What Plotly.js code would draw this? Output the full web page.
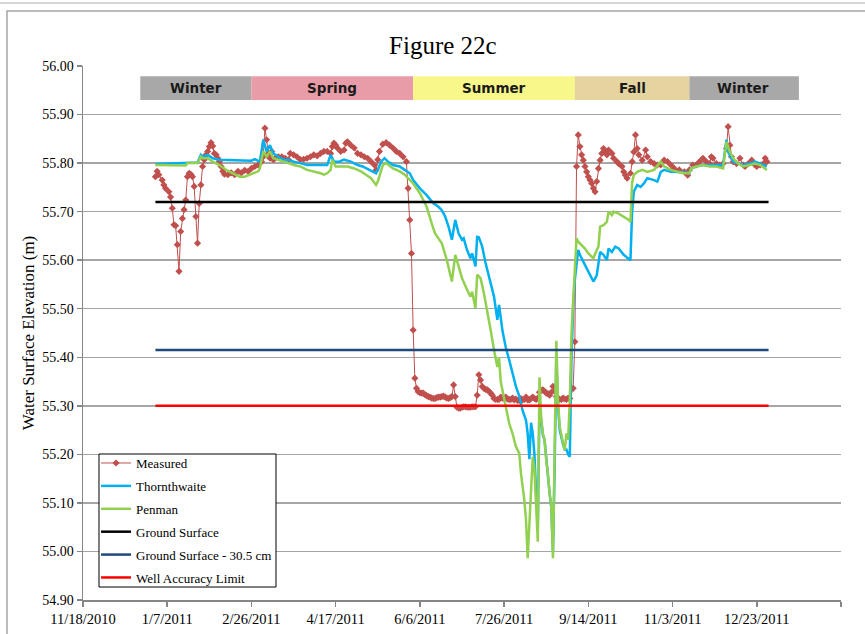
<!DOCTYPE html>
<html><head><meta charset="utf-8">
<script src="https://cdn.plot.ly/plotly-3.0.1.min.js"></script>
<style>html,body{margin:0;padding:0;background:#fff}#chart{width:865px;height:634px}</style>
</head><body><div id="chart"></div>
<script>
const measuredDates = ['2010-12-31','2011-01-01','2011-01-02','2011-01-04','2011-01-05','2011-01-06','2011-01-08','2011-01-09','2011-01-10','2011-01-11','2011-01-12','2011-01-13','2011-01-14','2011-01-15','2011-01-16','2011-01-17','2011-01-18','2011-01-19','2011-01-20','2011-01-21','2011-01-22','2011-01-23','2011-01-24','2011-01-25','2011-01-26','2011-01-27','2011-01-28','2011-01-29','2011-01-30','2011-01-31','2011-02-01','2011-02-02','2011-02-03','2011-02-04','2011-02-05','2011-02-06','2011-02-07','2011-02-08','2011-02-09','2011-02-10','2011-02-12','2011-02-14','2011-02-16','2011-02-18','2011-02-20','2011-02-22','2011-02-24','2011-02-26','2011-02-28','2011-03-02','2011-03-04','2011-03-05','2011-03-06','2011-03-07','2011-03-08','2011-03-09','2011-03-10','2011-03-11','2011-03-12','2011-03-14','2011-03-16','2011-03-18','2011-03-20','2011-03-21','2011-03-23','2011-03-25','2011-03-27','2011-03-29','2011-03-31','2011-04-02','2011-04-04','2011-04-06','2011-04-08','2011-04-10','2011-04-12','2011-04-14','2011-04-15','2011-04-16','2011-04-17','2011-04-18','2011-04-20','2011-04-22','2011-04-23','2011-04-24','2011-04-26','2011-04-28','2011-04-30','2011-05-02','2011-05-04','2011-05-06','2011-05-08','2011-05-10','2011-05-11','2011-05-12','2011-05-13','2011-05-15','2011-05-17','2011-05-19','2011-05-21','2011-05-23','2011-05-25','2011-05-27','2011-05-29','2011-05-30','2011-05-31','2011-06-01','2011-06-02','2011-06-03','2011-06-04',
'2011-06-05','2011-06-06','2011-06-07','2011-06-08','2011-06-09','2011-06-10','2011-06-11','2011-06-12','2011-06-13','2011-06-14','2011-06-15','2011-06-16','2011-06-17','2011-06-18','2011-06-19','2011-06-20','2011-06-21','2011-06-22','2011-06-23','2011-06-24','2011-06-25','2011-06-26','2011-06-27','2011-06-28','2011-06-29','2011-06-30','2011-07-01','2011-07-02','2011-07-03','2011-07-04','2011-07-05','2011-07-06','2011-07-07','2011-07-08','2011-07-09','2011-07-10','2011-07-11','2011-07-12','2011-07-13','2011-07-14','2011-07-15','2011-07-16','2011-07-17','2011-07-18','2011-07-19','2011-07-20','2011-07-21','2011-07-22','2011-07-23','2011-07-24','2011-07-25','2011-07-26','2011-07-27','2011-07-28','2011-07-29','2011-07-30','2011-07-31','2011-08-01','2011-08-02','2011-08-03','2011-08-04','2011-08-05','2011-08-06','2011-08-07','2011-08-08','2011-08-09','2011-08-10','2011-08-11','2011-08-12','2011-08-13','2011-08-14','2011-08-15','2011-08-16','2011-08-17','2011-08-18','2011-08-19','2011-08-20','2011-08-21','2011-08-22','2011-08-23','2011-08-24','2011-08-25','2011-08-26','2011-08-27','2011-08-28','2011-08-29','2011-08-30','2011-08-31','2011-09-01','2011-09-02','2011-09-03',
'2011-09-05','2011-09-06','2011-09-07','2011-09-08','2011-09-09','2011-09-10','2011-09-11','2011-09-12','2011-09-13','2011-09-14','2011-09-15','2011-09-16','2011-09-17','2011-09-18','2011-09-19','2011-09-20','2011-09-21','2011-09-22','2011-09-23','2011-09-24','2011-09-25','2011-09-26','2011-09-28','2011-09-29','2011-10-01','2011-10-02','2011-10-04','2011-10-05','2011-10-06','2011-10-07','2011-10-09','2011-10-10','2011-10-11','2011-10-12','2011-10-13','2011-10-14','2011-10-16','2011-10-18','2011-10-19','2011-10-21','2011-10-23','2011-10-25','2011-10-27','2011-10-29','2011-10-31','2011-11-02','2011-11-04','2011-11-07','2011-11-10','2011-11-12','2011-11-13','2011-11-15','2011-11-17','2011-11-19','2011-11-21','2011-11-23','2011-11-25','2011-11-26','2011-11-27','2011-11-29','2011-12-01','2011-12-03','2011-12-05','2011-12-06','2011-12-07','2011-12-08','2011-12-09','2011-12-11','2011-12-13','2011-12-15','2011-12-16','2011-12-18','2011-12-20','2011-12-22','2011-12-23','2011-12-25','2011-12-27','2011-12-28','2011-12-29'];
const measuredValues = [55.772,55.783,55.776,55.765,55.755,55.748,55.741,55.730,55.707,55.673,55.671,55.632,55.577,55.659,55.686,55.704,55.724,55.772,55.779,55.777,55.772,55.752,55.690,55.635,55.717,55.755,55.793,55.807,55.817,55.824,55.834,55.842,55.835,55.820,55.817,55.810,55.803,55.793,55.783,55.777,55.776,55.780,55.776,55.783,55.780,55.785,55.783,55.789,55.793,55.796,55.803,55.813,55.872,55.848,55.820,55.810,55.824,55.807,55.810,55.813,55.813,55.810,55.807,55.820,55.817,55.813,55.807,55.808,55.810,55.813,55.817,55.815,55.820,55.824,55.824,55.820,55.834,55.841,55.837,55.831,55.824,55.827,55.841,55.844,55.837,55.831,55.820,55.817,55.813,55.810,55.803,55.796,55.786,55.807,55.824,55.839,55.842,55.837,55.831,55.824,55.820,55.813,55.803,55.748,55.683,55.614,55.456,55.357,55.336,
55.329,55.327,55.326,55.326,55.323,55.321,55.319,55.318,55.316,55.315,55.315,55.317,55.318,55.318,55.319,55.320,55.318,55.316,55.315,55.317,55.319,55.343,55.319,55.297,55.295,55.295,55.297,55.298,55.298,55.297,55.297,55.297,55.298,55.298,55.298,55.322,55.364,55.353,55.340,55.336,55.334,55.333,55.330,55.326,55.322,55.315,55.313,55.313,55.313,55.318,55.316,55.315,55.318,55.314,55.313,55.313,55.316,55.312,55.314,55.311,55.311,55.315,55.312,55.313,55.318,55.312,55.312,55.315,55.318,55.315,55.313,55.316,55.328,55.332,55.333,55.330,55.326,55.325,55.322,55.328,55.340,55.330,55.319,55.316,55.313,55.313,55.316,55.314,55.313,55.316,55.315,
55.336,55.432,55.793,55.858,55.834,55.817,55.806,55.793,55.782,55.772,55.765,55.758,55.748,55.741,55.762,55.789,55.806,55.820,55.830,55.823,55.817,55.827,55.820,55.810,55.803,55.799,55.793,55.782,55.775,55.769,55.779,55.803,55.823,55.858,55.830,55.817,55.806,55.827,55.813,55.803,55.799,55.796,55.796,55.806,55.803,55.796,55.789,55.786,55.782,55.775,55.786,55.796,55.796,55.803,55.810,55.803,55.799,55.813,55.810,55.799,55.796,55.799,55.830,55.875,55.837,55.813,55.803,55.799,55.810,55.796,55.793,55.799,55.806,55.796,55.793,55.796,55.799,55.810,55.803];

const thornDates = ['2010-12-31','2011-01-17','2011-01-25','2011-01-27','2011-01-28','2011-01-31','2011-02-03','2011-02-07','2011-02-26','2011-02-28','2011-03-03','2011-03-05','2011-03-06','2011-03-07','2011-03-09','2011-03-11','2011-03-14','2011-03-17','2011-03-20','2011-03-23','2011-03-27','2011-03-31','2011-04-04','2011-04-08','2011-04-12','2011-04-14','2011-04-16','2011-04-19','2011-04-22','2011-04-26','2011-04-30','2011-05-03','2011-05-07','2011-05-11','2011-05-12','2011-05-14','2011-05-16','2011-05-18','2011-05-21','2011-05-25','2011-05-28','2011-05-31','2011-06-02','2011-06-06','2011-06-10','2011-06-14','2011-06-17','2011-06-19','2011-06-21','2011-06-23','2011-06-25','2011-06-26','2011-06-27','2011-06-29','2011-07-01','2011-07-02','2011-07-04','2011-07-06','2011-07-07','2011-07-09','2011-07-10','2011-07-11','2011-07-13','2011-07-15','2011-07-17','2011-07-20','2011-07-22','2011-07-23','2011-07-25','2011-07-27','2011-07-29','2011-07-31','2011-08-02','2011-08-04','2011-08-06','2011-08-08','2011-08-09','2011-08-10','2011-08-11','2011-08-12','2011-08-13','2011-08-14','2011-08-15','2011-08-16','2011-08-17','2011-08-18','2011-08-19','2011-08-20','2011-08-21','2011-08-22','2011-08-23','2011-08-24','2011-08-25','2011-08-26','2011-08-27','2011-08-28','2011-08-30','2011-08-31','2011-09-01','2011-09-02','2011-09-03','2011-09-04','2011-09-05','2011-09-06','2011-09-08','2011-09-09','2011-09-11','2011-09-13','2011-09-15','2011-09-17','2011-09-19','2011-09-20','2011-09-21','2011-09-23','2011-09-25','2011-09-26','2011-09-28','2011-09-30','2011-10-02','2011-10-05','2011-10-09','2011-10-10','2011-10-11','2011-10-13','2011-10-15','2011-10-17','2011-10-19','2011-10-23','2011-10-25','2011-10-27','2011-10-29','2011-11-02','2011-11-06','2011-11-10','2011-11-13','2011-11-14','2011-11-17','2011-11-21','2011-11-25','2011-11-29','2011-12-03','2011-12-05','2011-12-06','2011-12-09','2011-12-12','2011-12-15','2011-12-19','2011-12-22','2011-12-25','2011-12-29'];
const thornValues = [55.798,55.800,55.801,55.817,55.813,55.817,55.810,55.807,55.805,55.808,55.803,55.848,55.834,55.824,55.837,55.820,55.813,55.807,55.807,55.803,55.800,55.796,55.796,55.796,55.796,55.817,55.803,55.803,55.807,55.803,55.796,55.793,55.786,55.779,55.786,55.803,55.810,55.803,55.796,55.793,55.786,55.779,55.765,55.748,55.734,55.717,55.710,55.703,55.690,55.669,55.642,55.662,55.683,55.655,55.642,55.645,55.621,55.604,55.614,55.587,55.648,55.647,55.628,55.594,55.566,55.525,55.477,55.508,55.455,55.420,55.395,55.365,55.340,55.320,55.290,55.270,55.243,55.190,55.265,55.243,55.200,55.120,55.050,55.300,55.270,55.240,55.230,55.190,55.160,55.120,55.090,55.000,55.170,55.400,55.300,55.250,55.220,55.210,55.210,55.200,55.195,55.400,55.500,55.560,55.621,55.611,55.597,55.583,55.569,55.556,55.569,55.597,55.617,55.611,55.600,55.624,55.617,55.628,55.624,55.611,55.600,55.700,55.741,55.755,55.751,55.758,55.769,55.765,55.762,55.782,55.786,55.782,55.782,55.781,55.779,55.789,55.793,55.796,55.796,55.796,55.796,55.848,55.823,55.803,55.799,55.796,55.799,55.803,55.799,55.793];

const penmanDates = ['2010-12-31','2011-01-18','2011-01-19','2011-01-25','2011-01-27','2011-01-28','2011-01-31','2011-02-03','2011-02-07','2011-02-11','2011-02-15','2011-02-19','2011-02-22','2011-02-25','2011-02-28','2011-03-02','2011-03-03','2011-03-05','2011-03-07','2011-03-09','2011-03-11','2011-03-14','2011-03-17','2011-03-20','2011-03-23','2011-03-27','2011-03-31','2011-04-04','2011-04-08','2011-04-10','2011-04-12','2011-04-14','2011-04-15','2011-04-17','2011-04-20','2011-04-24','2011-04-28','2011-05-02','2011-05-05','2011-05-08','2011-05-11','2011-05-12','2011-05-15','2011-05-17','2011-05-21','2011-05-25','2011-05-28','2011-05-31','2011-06-02','2011-06-06','2011-06-10','2011-06-13','2011-06-15','2011-06-17','2011-06-19','2011-06-22','2011-06-24','2011-06-25','2011-06-27','2011-06-29','2011-07-01','2011-07-04','2011-07-06','2011-07-07','2011-07-09','2011-07-10','2011-07-12','2011-07-14','2011-07-16','2011-07-18','2011-07-20','2011-07-22','2011-07-23','2011-07-24','2011-07-26','2011-07-27','2011-07-29','2011-07-31','2011-08-02','2011-08-04','2011-08-05','2011-08-07','2011-08-08','2011-08-09','2011-08-10','2011-08-11','2011-08-12','2011-08-13','2011-08-14','2011-08-15','2011-08-16','2011-08-17','2011-08-18','2011-08-19','2011-08-20','2011-08-21','2011-08-22','2011-08-23','2011-08-24','2011-08-25','2011-08-26','2011-08-27','2011-08-28','2011-08-30','2011-08-31','2011-09-01','2011-09-02','2011-09-03','2011-09-04','2011-09-05','2011-09-06','2011-09-07','2011-09-08','2011-09-10','2011-09-12','2011-09-14','2011-09-17','2011-09-19','2011-09-20','2011-09-21','2011-09-23','2011-09-25','2011-09-26','2011-09-28','2011-09-29','2011-10-02','2011-10-05','2011-10-08','2011-10-09','2011-10-10','2011-10-11','2011-10-13','2011-10-16','2011-10-19','2011-10-23','2011-10-26','2011-10-27','2011-10-29','2011-11-02','2011-11-06','2011-11-10','2011-11-13','2011-11-14','2011-11-17','2011-11-21','2011-11-25','2011-11-29','2011-12-03','2011-12-04','2011-12-05','2011-12-07','2011-12-09','2011-12-12','2011-12-15','2011-12-19','2011-12-22','2011-12-25','2011-12-29'];
const penmanValues = [55.796,55.795,55.800,55.800,55.813,55.810,55.810,55.803,55.796,55.786,55.779,55.772,55.772,55.776,55.779,55.783,55.789,55.824,55.813,55.824,55.810,55.807,55.803,55.800,55.796,55.793,55.786,55.783,55.779,55.776,55.779,55.786,55.807,55.793,55.793,55.793,55.789,55.783,55.776,55.769,55.755,55.762,55.796,55.800,55.789,55.783,55.776,55.765,55.758,55.738,55.710,55.676,55.655,55.645,55.635,55.600,55.570,55.556,55.611,55.587,55.563,55.539,55.525,55.535,55.501,55.570,55.563,55.532,55.497,55.456,55.415,55.380,55.400,55.350,55.315,55.298,55.264,55.243,55.216,55.202,55.161,55.106,55.065,54.986,55.065,55.140,55.195,55.170,55.100,55.020,55.359,55.278,55.243,55.230,55.188,55.161,55.120,55.092,54.986,55.175,55.434,55.312,55.257,55.223,55.209,55.243,55.230,55.312,55.449,55.518,55.580,55.645,55.638,55.631,55.624,55.614,55.604,55.621,55.628,55.669,55.672,55.679,55.700,55.693,55.700,55.696,55.690,55.683,55.679,55.760,55.775,55.782,55.786,55.782,55.786,55.799,55.803,55.793,55.786,55.782,55.779,55.779,55.789,55.793,55.796,55.793,55.793,55.789,55.817,55.844,55.823,55.810,55.799,55.793,55.796,55.799,55.796,55.786];

const refLineDates = ['2010-12-31','2011-12-30'];
const groundSurface = 55.72;
const groundSurfaceMinus = 55.415;
const wellAccuracyLimit = 55.30;

const seasonNames = ['Winter','Spring','Summer','Fall','Winter'];
const seasonBounds = ['2010-12-22','2011-02-26','2011-06-02','2011-09-06','2011-11-13','2012-01-17'];
const seasonColors = ['#a8a8a8','#e89ca8','#f7f78a','#e6d4a0','#a8a8a8'];

const serif = 'Liberation Serif';

const traces = [
  {x: measuredDates, y: measuredValues, name: 'Measured', type: 'scatter', mode: 'lines+markers',
   line: {color: '#c0504d', width: 1}, marker: {symbol: 'diamond', size: 5.5, color: '#c0504d'}, legendgroup: 'a'},
  {x: thornDates, y: thornValues, name: 'Thornthwaite', type: 'scatter', mode: 'lines',
   line: {color: '#00b0f0', width: 2.5}, legendgroup: 'b'},
  {x: penmanDates, y: penmanValues, name: 'Penman', type: 'scatter', mode: 'lines',
   line: {color: '#92d050', width: 2.5}, legendgroup: 'c'},
  {x: refLineDates, y: [groundSurface, groundSurface], name: 'Ground Surface', type: 'scatter', mode: 'lines',
   line: {color: '#000000', width: 2.5}, legendgroup: 'd'},
  {x: refLineDates, y: [groundSurfaceMinus, groundSurfaceMinus], name: 'Ground Surface - 30.5 cm', type: 'scatter', mode: 'lines',
   line: {color: '#1f497d', width: 2.5}, legendgroup: 'e'},
  {x: refLineDates, y: [wellAccuracyLimit, wellAccuracyLimit], name: 'Well Accuracy Limit', type: 'scatter', mode: 'lines',
   line: {color: '#ff0000', width: 2.5}, legendgroup: 'f'}
];

const shapes = [];
const annotations = [];
for (let i = 0; i < seasonNames.length; i++) {
  shapes.push({type: 'rect', xref: 'x', yref: 'y', x0: seasonBounds[i], x1: seasonBounds[i+1],
    y0: 55.93, y1: 55.979, fillcolor: seasonColors[i], line: {width: 0}, layer: 'above'});
  const mid = (new Date(seasonBounds[i]).getTime() + new Date(seasonBounds[i+1]).getTime()) / 2;
  annotations.push({xref: 'x', yref: 'y', x: new Date(mid).toISOString().slice(0,10), y: 55.9545,
    text: '<b>' + seasonNames[i] + '</b>', showarrow: false,
    font: {family: 'DejaVu Sans', size: 13.5, color: '#1a1a1a'}});
}
// legend box
shapes.push({type: 'rect', xref: 'paper', yref: 'paper', x0: 0.0211, x1: 0.2546, y0: 0.0243, y1: 0.2734,
  fillcolor: '#ffffff', line: {color: '#000000', width: 1}, layer: 'above'});
// chart-area frame
shapes.push({type: 'rect', xref: 'paper', yref: 'paper', x0: -0.1003, x1: 1.04, y0: -0.08, y1: 1.103,
  line: {color: '#a6a6a6', width: 1.5}, fillcolor: 'rgba(0,0,0,0)', layer: 'below'});
shapes.push({type: 'line', xref: 'paper', yref: 'paper', x0: -0.12, x1: 1.04, y0: 1.118, y1: 1.118,
  line: {color: '#c8c8c8', width: 1.5}});

const layout = {
  width: 865, height: 634,
  margin: {l: 83, r: 24, t: 66, b: 34},
  paper_bgcolor: '#ffffff', plot_bgcolor: '#ffffff',
  showlegend: true,
  title: {text: 'Figure 22c', font: {family: serif, size: 25, color: '#000'}, x: 0.512, xref: 'container', xanchor: 'center', y: 0.928, yref: 'container', yanchor: 'middle'},
  xaxis: {
    type: 'date', range: ['2010-11-18', '2012-02-11'],
    tick0: '2010-11-18', dtick: 50 * 86400000, tickformat: '%-m/%-d/%Y',
    showgrid: false, zeroline: false, showline: true, linecolor: '#868686', linewidth: 1.5,
    ticks: 'outside', ticklen: 5, tickcolor: '#868686', tickwidth: 1.5,
    tickfont: {family: serif, size: 14.5, color: '#000'}
  },
  yaxis: {
    range: [54.9, 56.0], dtick: 0.1, tick0: 54.9, tickformat: '.2f',
    showgrid: true, gridcolor: '#a6a6a6', gridwidth: 1.5, zeroline: false,
    showline: true, linecolor: '#868686', linewidth: 1.5,
    ticks: 'outside', ticklen: 5, tickcolor: '#868686', tickwidth: 1.5,
    tickfont: {family: serif, size: 14, color: '#000'},
    title: {text: 'Water Surface Elevation (m)', font: {family: serif, size: 17, color: '#000'}, standoff: 3}
  },
  legend: {
    x: 0.0172, y: 0.2846, xanchor: 'left', yanchor: 'top',
    bgcolor: 'rgba(0,0,0,0)', borderwidth: 0,
    font: {family: serif, size: 13, color: '#000'},
    tracegroupgap: 3, itemwidth: 30, traceorder: 'grouped'
  },
  shapes: shapes,
  annotations: annotations
};

Plotly.newPlot('chart', traces, layout, {displayModeBar: false, staticPlot: true});
</script>
</body></html>
